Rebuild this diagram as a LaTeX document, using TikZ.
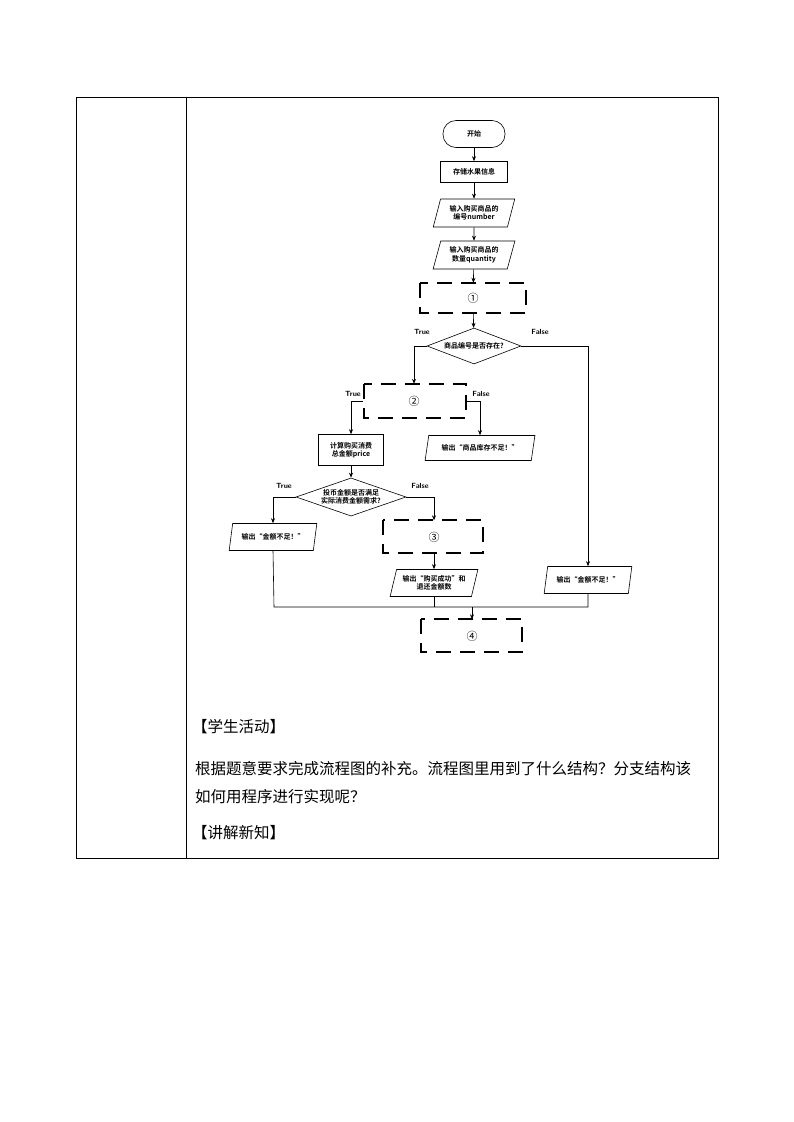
\documentclass[tikz,border=0pt]{standalone}
\usepackage{fontspec}
\setmainfont{Liberation Sans}
\newfontfamily\cjk{Noto Sans CJK SC}
\newfontfamily\cjkb{Noto Sans CJK SC Bold}
\usetikzlibrary{shapes.geometric,arrows.meta}
\begin{document}
\begin{tikzpicture}[x=1pt,y=-1pt,
  every node/.style={font=\cjkb\fontsize{7}{8.5}\selectfont, align=center, inner sep=1pt},
  base/.style={draw, line width=0.6pt},
  io/.style={base, trapezium, trapezium left angle=72, trapezium right angle=108, trapezium stretches=true},
  dec/.style={base, diamond, aspect=2.6, inner sep=0pt},
  dbox/.style={draw, line width=2.3pt, dash pattern=on 15pt off 9pt},
  arr/.style={line width=0.6pt, -{Stealth[length=5pt,width=4pt]}},
  ln/.style={line width=0.6pt},
  num/.style={font=\cjk\fontsize{11}{12}\selectfont},
  lab/.style={font=\sffamily\bfseries\fontsize{7.5}{9}\selectfont}]
\useasboundingbox (0,0) rectangle (793,1122);
% table
\draw[line width=0.8pt] (76,97) rectangle (718,858);
\draw[line width=0.8pt] (186,97) -- (186,858);
% nodes
\node[base, rounded corners=13pt, minimum width=62, minimum height=27] (start) at (474,134) {开始};
\node[base, minimum width=67, minimum height=21] (store) at (474,172) {存储水果信息};
\node[io, minimum width=82, minimum height=28] (in1) at (474,213) {输入购买商品的\\编号number};
\node[io, minimum width=82, minimum height=28] (in2) at (474,255) {输入购买商品的\\数量quantity};
\draw[dbox] (420,283) rectangle (526,313);
\node[minimum width=106, minimum height=30, num] (b1) at (473,298) {①};
\node[dec, minimum width=94, minimum height=36] (d1) at (474,346) {商品编号是否存在?};
\draw[dbox] (364,384) rectangle (466,418);
\node[minimum width=102, minimum height=34, num] (b2) at (414,401) {②};
\node[base, minimum width=65, minimum height=31] (calc) at (351,450) {计算购买消费\\总金额price};
\node[io, minimum width=110, minimum height=25] (outstock) at (480,448) {输出“商品库存不足！”};
\node[dec, minimum width=110, minimum height=37] (d2) at (351,497) {投币金额是否满足\\实际消费金额需求?};
\node[io, minimum width=88, minimum height=27] (outm1) at (273,537) {输出“金额不足！”};
\draw[dbox] (383,520) rectangle (483,553);
\node[minimum width=100, minimum height=33, num] (b3) at (434,537) {③};
\node[io, minimum width=88, minimum height=27] (outok) at (434,583) {输出“购买成功”和\\退还金额数};
\node[io, minimum width=88, minimum height=27] (outm2) at (588,580) {输出“金额不足！”};
\draw[dbox] (421,619) rectangle (522,652);
\node[minimum width=101, minimum height=33, num] (b4) at (472,636) {④};
% connectors
\draw[arr] (start) -- (store);
\draw[arr] (store) -- (in1);
\draw[arr] (in1) -- (in2);
\draw[arr] (in2) -- (b1);
\draw[arr] (b1) -- (d1);
\draw[arr] (d1.west) -| (b2.north);
\draw[arr] (d1.east) -| (outm2.north);
\draw[arr] (b2.west) -| (calc.north);
\draw[arr] (b2.east) -| (outstock.north);
\draw[arr] (calc) -- (d2);
\draw[arr] (d2.west) -| (outm1.north);
\draw[arr] (d2.east) -| (b3.north);
\draw[arr] (b3) -- (outok);
\coordinate (mL) at (274,607);
\coordinate (mR) at (588,607);
\coordinate (mC) at (472,607);
\draw[ln] (outm1.south) -- (mL) -- (mR) -- (outm2.south);
\draw[ln] (outok.south) -- (outok.south |- mL);
\draw[arr] (mC) -- (b4.north);
% labels
\node[lab] at (422,332) {True};
\node[lab] at (540,332) {False};
\node[lab] at (353,394) {True};
\node[lab] at (481,394) {False};
\node[lab] at (284,486) {True};
\node[lab] at (420,486) {False};
% text
\begin{scope}[every node/.style={font=\cjk\fontsize{15.5}{28}\selectfont, anchor=west, inner sep=0pt, align=left}]
\node (t1) at (192,727) {【学生活动】};
\node (t2) at (195,783) {根据题意要求完成流程图的补充。流程图里用到了什么结构？分支结构该\\如何用程序进行实现呢？};
\node (t3) at (192,833) {【讲解新知】};
\end{scope}
\end{tikzpicture}
\end{document}
